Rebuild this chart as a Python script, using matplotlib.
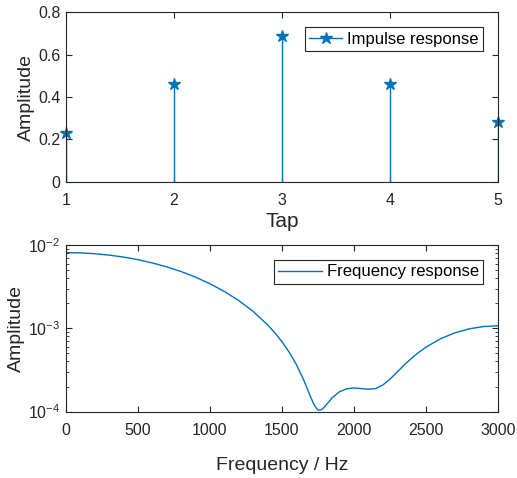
import numpy as np
import matplotlib
matplotlib.use('Agg')
import matplotlib.pyplot as plt
from matplotlib.lines import Line2D
from matplotlib.ticker import LogLocator, NullFormatter

## {{{                          --     data     --
taps = [1, 2, 3, 4, 5]
impulse = [0.23, 0.46, 0.69, 0.46, 0.28]

freq_hz = [0, 100, 200, 300, 400, 500, 600, 700, 800, 900, 1000, 1100, 1200,
           1300, 1400, 1450, 1500, 1550, 1600, 1650, 1700, 1725, 1750, 1775,
           1800, 1850, 1900, 1950, 2000, 2050, 2100, 2150, 2200, 2250, 2300,
           2350, 2400, 2450, 2500, 2600, 2700, 2800, 2900, 3000]
freq_amp = [8.15e-3, 8.09e-3, 7.90e-3, 7.60e-3, 7.20e-3, 6.70e-3, 6.12e-3,
            5.49e-3, 4.82e-3, 4.13e-3, 3.44e-3, 2.78e-3, 2.16e-3, 1.60e-3,
            1.105e-3, 8.88e-4, 6.92e-4, 5.18e-4, 3.68e-4, 2.42e-4, 1.48e-4,
            1.19e-4, 1.04e-4, 1.05e-4, 1.16e-4, 1.47e-4, 1.73e-4, 1.88e-4,
            1.92e-4, 1.89e-4, 1.86e-4, 1.89e-4, 2.08e-4, 2.45e-4, 2.98e-4,
            3.64e-4, 4.37e-4, 5.14e-4, 5.94e-4, 7.48e-4, 8.82e-4, 9.87e-4,
            1.053e-3, 1.076e-3]
##────────────────────────────────────────────────────────────────────────────}}}

BLUE = '#0072BD'
DARK = '#262626'

plt.rcParams['font.family'] = ['Liberation Sans', 'DejaVu Sans']
plt.rcParams['mathtext.fontset'] = 'custom'
plt.rcParams['mathtext.rm'] = 'Liberation Sans'
plt.rcParams['mathtext.it'] = 'Liberation Sans'
plt.rcParams['axes.edgecolor'] = DARK
plt.rcParams['xtick.color'] = DARK
plt.rcParams['ytick.color'] = DARK
plt.rcParams['axes.linewidth'] = 0.8

fig = plt.figure(figsize=(5.17, 4.78), dpi=100)
ax1 = fig.add_axes([0.1277, 0.620, 0.8353, 0.354])
ax2 = fig.add_axes([0.1277, 0.139, 0.8353, 0.348])

## {{{                          --     impulse     --
markerline, stemlines, baseline = ax1.stem(taps, impulse, linefmt='-', markerfmt='*',
                                           basefmt=' ')
stemlines.set_color(BLUE)
stemlines.set_linewidth(1.0)
markerline.set_color(BLUE)
markerline.set_markersize(9)
markerline.set_clip_on(False)
ax1.set_xlim(1, 5)
ax1.set_ylim(0, 0.8)
ax1.set_xticks(taps)
ax1.set_yticks([0, 0.2, 0.4, 0.6, 0.8])
ax1.set_yticklabels(['0', '0.2', '0.4', '0.6', '0.8'])
ax1.set_xlabel('Tap', fontsize=15, color=DARK, labelpad=3)
ax1.set_ylabel('Amplitude', fontsize=14, color=DARK, labelpad=2)
stem_handle = Line2D([], [], color=BLUE, linewidth=1.0, marker='*', markersize=9)
leg = ax1.legend([stem_handle], ['Impulse response'], loc='upper right', fontsize=12,
                 fancybox=False, edgecolor=DARK, framealpha=1, borderaxespad=0.9,
                 handlelength=2.0, borderpad=0.25, handletextpad=0.3)
leg.get_frame().set_linewidth(0.8)
##────────────────────────────────────────────────────────────────────────────}}}

## {{{                          --     frequency     --
ax2.plot(freq_hz, freq_amp, color=BLUE, linewidth=1.0, label='Frequency response')
ax2.set_yscale('log')
ax2.set_xlim(0, 3000)
ax2.set_ylim(1e-4, 1e-2)
ax2.set_xticks(np.arange(0, 3001, 500))
ax2.yaxis.set_major_locator(LogLocator(base=10, numticks=5))
ax2.yaxis.set_minor_locator(LogLocator(base=10, subs=np.arange(2, 10), numticks=10))
ax2.yaxis.set_minor_formatter(NullFormatter())
ax2.set_xlabel('Frequency / Hz', fontsize=14, color=DARK, labelpad=14)
ax2.set_ylabel('Amplitude', fontsize=14, color=DARK, labelpad=2)
leg = ax2.legend(loc='upper right', fontsize=12, fancybox=False, edgecolor=DARK,
                 framealpha=1, borderaxespad=0.9, handlelength=2.6,
                 borderpad=0.25, handletextpad=0.3)
leg.get_frame().set_linewidth(0.8)
##────────────────────────────────────────────────────────────────────────────}}}

for ax in (ax1, ax2):
    ax.tick_params(which='both', direction='in', top=True, right=True, labelsize=11.5)
    ax.tick_params(which='major', length=4, width=0.8)
    ax.tick_params(which='minor', length=2, width=0.6)
    ax.tick_params(axis='x', pad=8)
    ax.tick_params(axis='y', pad=4)

fig.savefig('out.png', dpi=100)
